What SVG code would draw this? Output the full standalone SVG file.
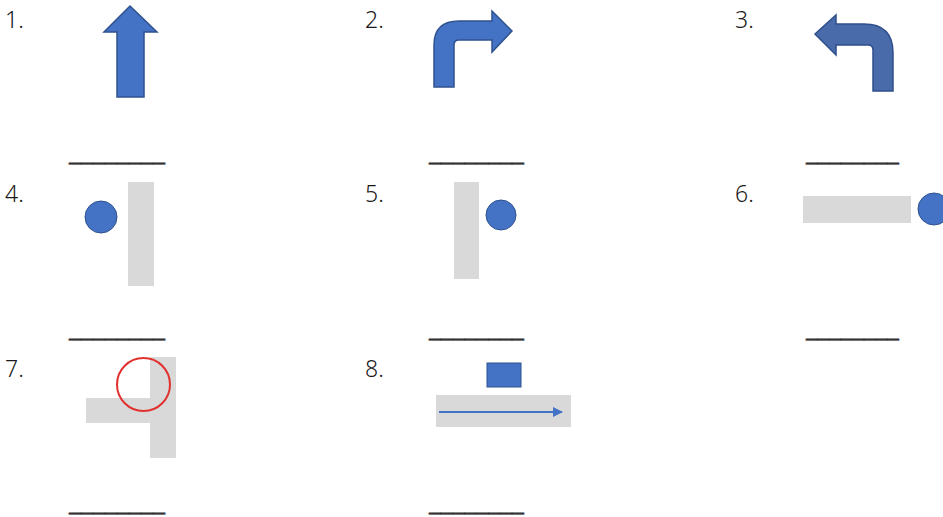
<svg xmlns="http://www.w3.org/2000/svg" width="943" height="517" viewBox="0 0 943 517">
<defs>
<style>
.num{font-family:"Noto Sans","DejaVu Sans",sans-serif;font-size:23px;fill:#1a1a1a;font-weight:300}
.blank{font-family:"Noto Sans","DejaVu Sans",sans-serif;font-size:22px;fill:#333;stroke:#333;stroke-width:0.6}
.arr{fill:#4472C4;stroke:#2F528F;stroke-width:1.5;stroke-linejoin:miter}
.arr3{fill:#4A6BAA;stroke:#2F4F8A;stroke-width:1.5}
.road{fill:#D9D9D9}
.dot{fill:#4472C4;stroke:#2F528F;stroke-width:1}
</style>
<marker id="ah" viewBox="0 0 10 10" refX="9" refY="5" markerWidth="5.5" markerHeight="5" orient="auto" markerUnits="strokeWidth">
<path d="M0,0 L10,5 L0,10 Z" fill="#4472C4"/>
</marker>
</defs>
<rect width="943" height="517" fill="#fff"/>

<g id="labels">
<text class="num" x="5" y="28">1.</text>
<text class="num" x="365" y="28">2.</text>
<text class="num" x="735" y="28">3.</text>
<text class="num" x="5" y="202">4.</text>
<text class="num" x="365" y="202">5.</text>
<text class="num" x="735" y="202">6.</text>
<text class="num" x="5" y="377">7.</text>
<text class="num" x="365" y="377">8.</text>
</g>

<g id="blanks">
<text class="blank" x="69" y="161" textLength="96" lengthAdjust="spacingAndGlyphs">________</text>
<text class="blank" x="429" y="161" textLength="95" lengthAdjust="spacingAndGlyphs">________</text>
<text class="blank" x="806" y="161" textLength="93" lengthAdjust="spacingAndGlyphs">________</text>
<text class="blank" x="69" y="337" textLength="96" lengthAdjust="spacingAndGlyphs">________</text>
<text class="blank" x="429" y="337" textLength="95" lengthAdjust="spacingAndGlyphs">________</text>
<text class="blank" x="806" y="337" textLength="93" lengthAdjust="spacingAndGlyphs">________</text>
<text class="blank" x="69" y="511" textLength="96" lengthAdjust="spacingAndGlyphs">________</text>
<text class="blank" x="429" y="511" textLength="95" lengthAdjust="spacingAndGlyphs">________</text>
</g>

<g id="item1">
<path class="arr" d="M130,6 L157,32 L144,32 L144,97 L117,97 L117,32 L104,32 Z"/>
</g>

<g id="item2">
<path class="arr" d="M434,87 L434,45 Q434,21 459,21 L492,21 L492,11 L512,31 L492,52 L492,40 L459,40 Q454,40 454,45 L454,87 Z"/>
</g>

<g id="item3">
<path class="arr3" d="M893,91 L893,53 Q893,24 864,24 L836,24 L836,15 L815,34 L836,55 L836,45 L868,45 Q873,45 873,50 L873,91 Z"/>
</g>

<g id="item4">
<rect class="road" x="128" y="182" width="26" height="104"/>
<circle class="dot" cx="101" cy="217" r="16"/>
</g>

<g id="item5">
<rect class="road" x="454" y="182" width="25" height="97"/>
<circle class="dot" cx="501" cy="215" r="15"/>
</g>

<g id="item6">
<rect class="road" x="803" y="196" width="108" height="27"/>
<circle class="dot" cx="934" cy="209" r="16"/>
</g>

<g id="item7">
<rect class="road" x="150" y="357" width="26" height="101"/>
<rect class="road" x="86" y="398" width="64" height="25"/>
<circle cx="143.5" cy="384.5" r="26.5" fill="none" stroke="#E0312F" stroke-width="2"/>
</g>

<g id="item8">
<rect class="road" x="436" y="395" width="135" height="32"/>
<rect class="dot" x="487" y="363" width="34" height="24"/>
</g>

<g id="connectors">
<line x1="439" y1="412" x2="562" y2="412" stroke="#4472C4" stroke-width="2" marker-end="url(#ah)"/>
</g>
</svg>
